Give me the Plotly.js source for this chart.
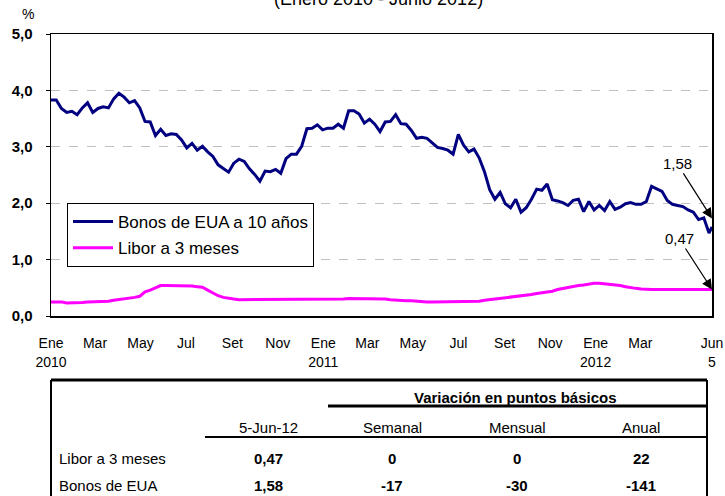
<!DOCTYPE html>
<html>
<head>
<meta charset="utf-8">
<script src="https://cdn.plot.ly/plotly-3.0.1.min.js"></script>
<style>body{margin:0;padding:0;background:#fff}#chart{width:725px;height:496px}</style>
</head>
<body>
<div id="chart"></div>
<script>
// ---- Data (weekly readings, Jan 2010 - Jun 5 2012) ----
const dates = [
'2010-01-01','2010-01-08','2010-01-15','2010-01-22','2010-01-29','2010-02-05','2010-02-12','2010-02-19','2010-02-26',
'2010-03-05','2010-03-12','2010-03-19','2010-03-26','2010-04-02','2010-04-09','2010-04-16','2010-04-23','2010-04-30',
'2010-05-07','2010-05-14','2010-05-21','2010-05-28','2010-06-04','2010-06-11','2010-06-18','2010-06-25',
'2010-07-02','2010-07-09','2010-07-16','2010-07-23','2010-07-30','2010-08-06','2010-08-13','2010-08-20','2010-08-27',
'2010-09-03','2010-09-10','2010-09-17','2010-09-24','2010-10-01','2010-10-08','2010-10-15','2010-10-22','2010-10-29',
'2010-11-05','2010-11-12','2010-11-19','2010-11-26','2010-12-03','2010-12-10','2010-12-17','2010-12-24','2010-12-31',
'2011-01-07','2011-01-14','2011-01-21','2011-01-28','2011-02-04','2011-02-11','2011-02-18','2011-02-25',
'2011-03-04','2011-03-11','2011-03-18','2011-03-25','2011-04-01','2011-04-08','2011-04-15','2011-04-22','2011-04-29',
'2011-05-06','2011-05-13','2011-05-20','2011-05-27','2011-06-03','2011-06-10','2011-06-17','2011-06-24',
'2011-07-01','2011-07-08','2011-07-15','2011-07-22','2011-07-29','2011-08-05','2011-08-12','2011-08-19','2011-08-26',
'2011-09-02','2011-09-09','2011-09-16','2011-09-23','2011-09-30','2011-10-07','2011-10-14','2011-10-21','2011-10-28',
'2011-11-04','2011-11-11','2011-11-18','2011-11-25','2011-12-02','2011-12-09','2011-12-16','2011-12-23','2011-12-30',
'2012-01-06','2012-01-13','2012-01-20','2012-01-27','2012-02-03','2012-02-10','2012-02-17','2012-02-24',
'2012-03-02','2012-03-09','2012-03-16','2012-03-23','2012-03-30','2012-04-06','2012-04-13','2012-04-20','2012-04-27',
'2012-05-04','2012-05-11','2012-05-18','2012-05-25','2012-06-01','2012-06-05'
];
const bonos10 = [
3.83,3.83,3.68,3.61,3.63,3.57,3.69,3.78,3.61,
3.68,3.71,3.69,3.85,3.95,3.88,3.78,3.82,3.69,
3.45,3.44,3.20,3.31,3.20,3.23,3.22,3.12,
2.98,3.06,2.94,3.01,2.91,2.83,2.68,2.61,2.55,
2.71,2.78,2.74,2.61,2.51,2.39,2.57,2.56,2.60,
2.53,2.79,2.87,2.87,3.01,3.32,3.33,3.39,3.30,
3.33,3.33,3.40,3.33,3.64,3.64,3.58,3.42,
3.49,3.40,3.27,3.44,3.45,3.57,3.41,3.40,3.29,
3.15,3.17,3.15,3.07,2.99,2.97,2.94,2.87,
3.22,3.03,2.91,2.96,2.80,2.56,2.24,2.07,2.19,
1.99,1.92,2.07,1.84,1.92,2.07,2.25,2.23,2.34,
2.06,2.04,2.01,1.96,2.05,2.07,1.85,2.03,1.88,
1.96,1.87,2.03,1.89,1.93,1.99,2.01,1.98,
1.98,2.03,2.30,2.25,2.21,2.05,1.98,1.96,1.94,
1.88,1.84,1.71,1.74,1.47,1.58
];
const libor3m = [
0.25,0.25,0.25,0.23,0.23,0.23,0.24,0.25,0.25,
0.26,0.26,0.26,0.28,0.29,0.30,0.31,0.33,0.35,
0.43,0.46,0.50,0.54,0.54,0.54,0.54,0.53,
0.53,0.53,0.52,0.51,0.46,0.41,0.36,0.33,0.31,
0.30,0.29,0.29,0.29,0.29,0.29,0.29,0.29,0.29,
0.29,0.29,0.29,0.29,0.30,0.30,0.30,0.30,0.30,
0.30,0.30,0.30,0.30,0.31,0.31,0.31,0.31,
0.31,0.31,0.31,0.30,0.29,0.28,0.28,0.27,0.27,
0.26,0.26,0.25,0.25,0.25,0.25,0.25,0.25,
0.25,0.25,0.25,0.25,0.26,0.28,0.29,0.31,0.32,
0.33,0.34,0.35,0.36,0.37,0.38,0.40,0.41,0.42,
0.44,0.47,0.49,0.51,0.53,0.54,0.55,0.57,0.58,
0.58,0.57,0.57,0.56,0.54,0.52,0.50,0.49,
0.48,0.47,0.47,0.47,0.47,0.47,0.47,0.47,0.47,
0.47,0.47,0.47,0.47,0.47,0.47
];
const seriesNames = ['Bonos de EUA a 10 años', 'Libor a 3 meses'];
const xTickVals = ['2010-01-01','2010-03-01','2010-05-01','2010-07-01','2010-09-01','2010-11-01',
  '2011-01-01','2011-03-01','2011-05-01','2011-07-01','2011-09-01','2011-11-01',
  '2012-01-01','2012-03-01','2012-06-05'];
const xTickText = ['Ene<br>2010','Mar','May','Jul','Set','Nov','Ene<br>2011','Mar','May','Jul','Set','Nov','Ene<br>2012','Mar','Jun<br>5'];
const yTickVals = [0,1,2,3,4,5];
const yTickText = ['0,0','1,0','2,0','3,0','4,0','5,0'];
const lastBonos = '1,58';
const lastLibor = '0,47';
const titleText = '(Enero 2010 - Junio 2012)';
const tableHeader = 'Variación en puntos básicos';
const tableColumns = ['5-Jun-12','Semanal','Mensual','Anual'];
const rowLabels = ['Libor a 3 meses','Bonos de EUA'];
const liborRow = ['0,47','0','0','22'];
const bonosRow = ['1,58','-17','-30','-141'];

// ---- Layout helpers (pixel -> paper) ----
const L = 51, R = 712, T = 34, B = 316;
const W = R - L, H = B - T;
const px = v => (v - L) / W;
const py = v => (B - v) / H;
const FONT = 'Liberation Sans, Arial, sans-serif';

const traces = [
  {x: dates, y: bonos10, name: seriesNames[0], type: 'scatter', mode: 'lines',
   line: {color: '#000080', width: 3}, legendgroup: 'a'},
  {x: dates, y: libor3m, name: seriesNames[1], type: 'scatter', mode: 'lines',
   line: {color: '#FF00FF', width: 3}, legendgroup: 'b'}
];

const annotations = [
  {text: titleText, xref: 'paper', yref: 'paper', x: px(378), y: py(-1), showarrow: false,
   font: {family: FONT, size: 18, color: '#000'}, xanchor: 'center', yanchor: 'middle'},
  {text: '%', xref: 'paper', yref: 'paper', x: px(28), y: py(14), showarrow: false,
   font: {family: FONT, size: 14, color: '#000'}, xanchor: 'center', yanchor: 'middle'},
  {text: lastBonos, x: dates[dates.length-1], y: 1.73, xref: 'x', yref: 'y', showarrow: true,
   ax: -35, ay: -55, arrowhead: 2, arrowsize: 1.7, arrowwidth: 1.2, arrowcolor: '#000',
   font: {family: FONT, size: 15, color: '#000'}},
  {text: lastLibor, x: dates[dates.length-1], y: 0.47, xref: 'x', yref: 'y', showarrow: true,
   ax: -33, ay: -51, arrowhead: 2, arrowsize: 1.7, arrowwidth: 1.2, arrowcolor: '#000',
   font: {family: FONT, size: 15, color: '#000'}}
];

// table text
annotations.push({text: '<b>' + tableHeader + '</b>', xref: 'paper', yref: 'paper', x: px(515), y: py(397),
  showarrow: false, font: {family: FONT, size: 15, color: '#000'}, xanchor: 'center', yanchor: 'middle'});
const colX = [268, 392, 517, 641];
tableColumns.forEach((c, i) => annotations.push({text: c, xref: 'paper', yref: 'paper', x: px(colX[i]), y: py(427),
  showarrow: false, font: {family: FONT, size: 15, color: '#000'}, xanchor: 'center', yanchor: 'middle'}));
const rowY = [458, 486];
[liborRow, bonosRow].forEach((row, r) => {
  annotations.push({text: rowLabels[r], xref: 'paper', yref: 'paper', x: px(57), y: py(rowY[r]),
    showarrow: false, font: {family: FONT, size: 15, color: '#000'}, xanchor: 'left', yanchor: 'middle'});
  row.forEach((v, i) => annotations.push({text: '<b>' + v + '</b>', xref: 'paper', yref: 'paper', x: px(colX[i]), y: py(rowY[r]),
    showarrow: false, font: {family: FONT, size: 15, color: '#000'}, xanchor: 'center', yanchor: 'middle'}));
});

const shapes = [
  {type: 'line', xref: 'paper', yref: 'paper', x0: px(51), x1: px(707), y0: py(380), y1: py(380), line: {color: '#000', width: 3}},
  {type: 'line', xref: 'paper', yref: 'paper', x0: px(51), x1: px(51), y0: py(380), y1: py(505), line: {color: '#000', width: 2}},
  {type: 'line', xref: 'paper', yref: 'paper', x0: px(707), x1: px(707), y0: py(380), y1: py(505), line: {color: '#000', width: 2}},
  {type: 'line', xref: 'paper', yref: 'paper', x0: px(328), x1: px(707), y0: py(406), y1: py(406), line: {color: '#000', width: 3}},
  {type: 'line', xref: 'paper', yref: 'paper', x0: px(205), x1: px(707), y0: py(437), y1: py(437), line: {color: '#000', width: 2}}
];

const layout = {
  width: 725, height: 496,
  margin: {l: L, r: 725 - R, t: T, b: 496 - B, pad: 0},
  paper_bgcolor: '#fff', plot_bgcolor: '#fff',
  font: {family: FONT, color: '#000'},
  showlegend: true,
  legend: {x: px(67), y: py(203), xanchor: 'left', yanchor: 'top', bgcolor: '#fff',
    bordercolor: '#000', borderwidth: 1, font: {family: FONT, size: 17, color: '#000'},
    traceorder: 'grouped', tracegroupgap: 1, itemwidth: 40},
  xaxis: {type: 'date', range: ['2010-01-01', '2012-06-05'], tickmode: 'array',
    tickvals: xTickVals, ticktext: xTickText, showgrid: false, zeroline: false,
    showline: true, linecolor: '#000', linewidth: 1.5, mirror: true, ticks: '',
    tickangle: 0, tickfont: {family: FONT, size: 14, color: '#000'}, ticklabelstandoff: 14},
  yaxis: {range: [0, 5], tickmode: 'array', tickvals: yTickVals, ticktext: yTickText,
    showgrid: true, gridcolor: '#c0c0c0', griddash: 'dash', gridwidth: 1, zeroline: false,
    showline: true, linecolor: '#000', linewidth: 1.5, mirror: true, ticks: 'outside', ticklen: 4,
    tickcolor: '#000', tickfont: {family: FONT, size: 15, color: '#000', weight: 'bold'}, ticklabelstandoff: 10},
  annotations: annotations,
  shapes: shapes
};

Plotly.newPlot('chart', traces, layout, {displayModeBar: false, staticPlot: true});
</script>
</body>
</html>
